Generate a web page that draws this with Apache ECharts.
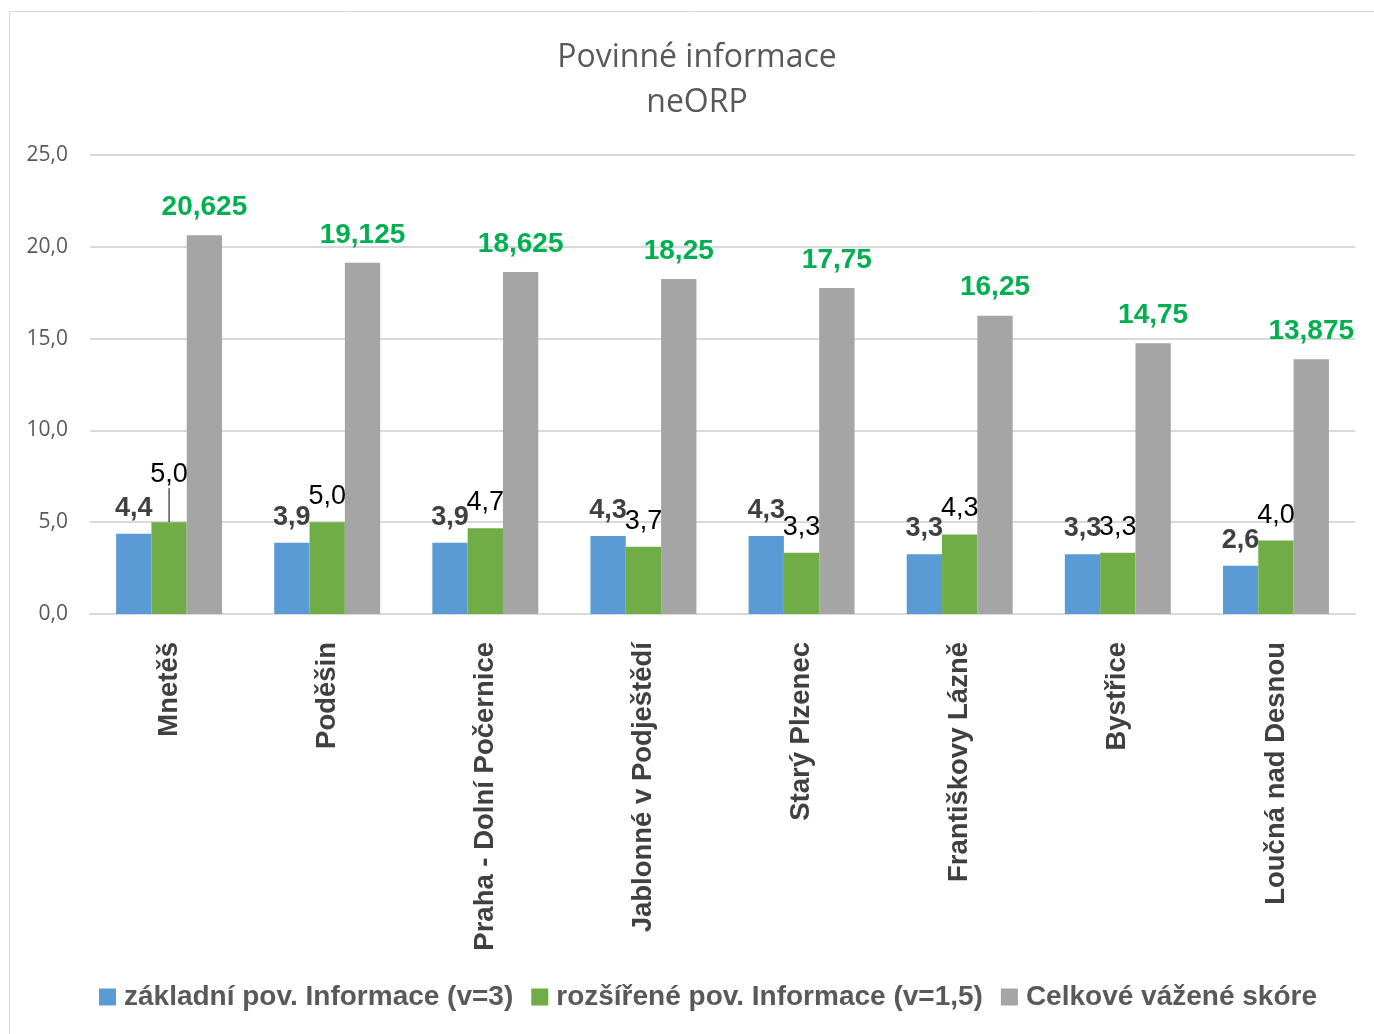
<!DOCTYPE html>
<html><head><meta charset="utf-8">
<script src="https://cdn.jsdelivr.net/npm/echarts@6/dist/echarts.min.js"></script>
<style>html,body{margin:0;padding:0;background:#fff}#c{width:1374px;height:1034px}</style>
</head><body><div id="c"></div>
<script>
var categories = ['Mnetěš','Poděšin','Praha - Dolní Počernice','Jablonné v Podještědí','Starý Plzenec','Františkovy Lázně','Bystřice','Loučná nad Desnou'];
var zakladni = [4.375, 3.875, 3.875, 4.25, 4.25, 3.25, 3.25, 2.625];
var rozsirene = [5.0, 5.0, 4.667, 3.667, 3.333, 4.333, 3.333, 4.0];
var celkove = [20.625, 19.125, 18.625, 18.25, 17.75, 16.25, 14.75, 13.875];
var seriesNames = ['základní pov. Informace (v=3)','rozšířené pov. Informace (v=1,5)','Celkové vážené skóre'];
var yTicks = {min:0, max:25, interval:5};

var FONT = "'Liberation Sans',sans-serif";
function fmt1(v){ return v.toFixed(1).replace('.', ','); }
function fmtAll(v){ return String(v).replace('.', ','); }

var greenData = rozsirene.map(function(v, i){
  return i === 0 ? {value:v, labelLine:{show:true}} : {value:v};
});

var chart = echarts.init(document.getElementById('c'));
chart.setOption({
  animation:false,
  textStyle:{fontFamily:FONT},
  title:{
    text:'Povinné informace\nneORP', left:692, top:30, textAlign:'center',
    textStyle:{fontFamily:"'Open Sans',sans-serif", fontSize:32, fontWeight:'normal', color:'#595959', lineHeight:45}
  },
  graphic:[{type:'rect', shape:{x:9.5,y:11.5,width:1400,height:1100}, style:{fill:'none', stroke:'#d9d9d9', lineWidth:1}, z:-1}],
  grid:{left:90, right:19, top:155, bottom:420, containLabel:false},
  legend:{
    bottom:18, left:94, itemWidth:17, itemHeight:17, itemGap:18,
    icon:'rect',
    textStyle:{fontFamily:FONT, fontSize:28, fontWeight:'bold', color:'#595959', padding:[0,0,0,3]},
    data:seriesNames
  },
  xAxis:{
    type:'category', data:categories,
    axisLine:{lineStyle:{color:'#d9d9d9', width:2}},
    axisTick:{show:false},
    axisLabel:{rotate:90, interval:0, margin:28, fontFamily:FONT, fontSize:27.5, fontWeight:'bold', color:'#404040'}
  },
  yAxis:{
    type:'value', min:yTicks.min, max:yTicks.max, interval:yTicks.interval,
    axisLine:{show:false}, axisTick:{show:false},
    splitLine:{lineStyle:{color:'#d9d9d9', width:2}},
    axisLabel:{margin:22, fontFamily:"'Open Sans',sans-serif", fontSize:21, color:'#595959', formatter:function(v){return fmt1(v);}}
  },
  series:[
    {name:seriesNames[0], type:'bar', data:zakladni, barGap:'0%', barCategoryGap:'33%',
     itemStyle:{color:'#5b9bd5'},
     label:{show:true, position:'top', distance:12, fontFamily:FONT, fontSize:27, fontWeight:'bold', color:'#404040',
            formatter:function(p){return fmt1(p.value);}}},
    {name:seriesNames[1], type:'bar', data:greenData, barGap:'0%', barCategoryGap:'33%',
     itemStyle:{color:'#70ad47'},
     label:{show:true, position:'top', distance:12, fontFamily:FONT, fontSize:27, color:'#000000',
            formatter:function(p){return fmt1(p.value);}},
     labelLine:{show:false, lineStyle:{color:'#000', width:1}},
     labelLayout:function(p){ if(p.dataIndex===0){ return {dy:-22}; } return {}; }},
    {name:seriesNames[2], type:'bar', data:celkove, barGap:'0%', barCategoryGap:'33%',
     itemStyle:{color:'#a5a5a5'},
     label:{show:true, position:'top', distance:14, fontFamily:FONT, fontSize:28, fontWeight:'bold', color:'#00b050',
            formatter:function(p){return fmtAll(p.value);}}}
  ]
});
</script></body></html>
